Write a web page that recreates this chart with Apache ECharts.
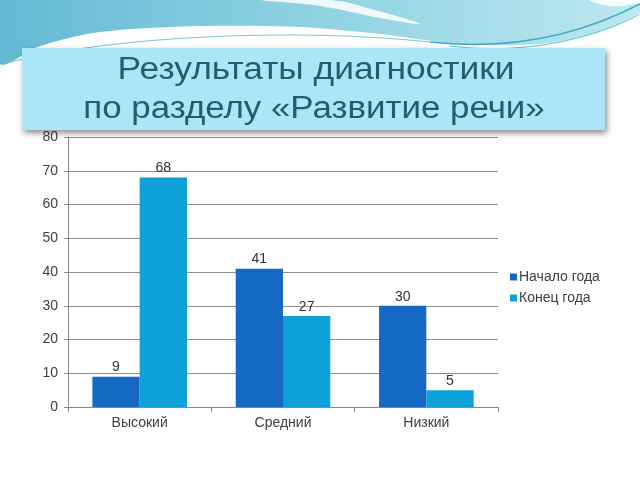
<!DOCTYPE html>
<html><head><meta charset="utf-8">
<script src="https://cdn.jsdelivr.net/npm/echarts@6/dist/echarts.min.js"></script>
<style>html,body{margin:0;padding:0;background:#fff}#c{width:640px;height:480px}</style>
</head><body><div id="c"></div>
<script>
const categories = ['Высокий', 'Средний', 'Низкий'];
const seriesNames = ['Начало года', 'Конец года'];
const startValues = [9, 41, 30];
const endValues = [68, 27, 5];
const titleLines = ['Результаты диагностики', 'по разделу «Развитие речи»'];

const chart = echarts.init(document.getElementById('c'), null, {renderer: 'canvas'});
const lblStyle = {show: true, position: 'top', color: '#333', fontSize: 14, fontFamily: 'Liberation Sans', distance: 2};
const topGrad = {type: 'linear', x: 0, y: 0, x2: 1, y2: 0, colorStops: [{offset: 0, color: '#62b8d4'}, {offset: 0.45, color: '#8ad0e2'}, {offset: 1, color: '#bde8ef'}]};
chart.setOption({
  animation: false,
  backgroundColor: '#fff',
  graphic: [
    {type: 'polygon', z: -10, shape: {smooth: 0.3, points: [[0, 0], [640, 0], [640, 12], [600, 32], [540, 44], [460, 44], [380, 34], [300, 27], [200, 26], [100, 32], [40, 46], [0, 64]]},
      style: {fill: topGrad}},
    {type: 'polygon', z: -9, shape: {smooth: 0.4, points: [[262, 0], [330, 0], [375, 10], [420, 24], [380, 18], [320, 6]]},
      style: {fill: 'rgba(255,255,255,0.85)'}},
    {type: 'polygon', z: -9, shape: {smooth: 0.4, points: [[590, 0], [640, 0], [640, 3], [610, 6]]},
      style: {fill: 'rgba(255,255,255,0.85)'}},
    {type: 'bezierCurve', z: -9, shape: {x1: 10, y1: 62, x2: 430, y2: 42, cpx1: 120, cpy1: 35, cpx2: 300, cpy2: 28}, style: {fill: null, stroke: '#7cc4d6', lineWidth: 1}},
    {type: 'bezierCurve', z: -9, shape: {x1: 430, y1: 42, x2: 640, y2: 4, cpx1: 520, cpy1: 52, cpx2: 590, cpy2: 30}, style: {fill: null, stroke: '#3fa8c4', lineWidth: 1.5}},
    {type: 'bezierCurve', z: -9, shape: {x1: 450, y1: 46, x2: 640, y2: 14, cpx1: 530, cpy1: 56, cpx2: 600, cpy2: 36}, style: {fill: null, stroke: '#6cc0d4', lineWidth: 1}},
    {type: 'rect', z: 10, shape: {x: 22, y: 48, width: 583, height: 82},
      style: {fill: '#abe6f6', shadowBlur: 6, shadowOffsetX: 2, shadowOffsetY: 3, shadowColor: 'rgba(0,0,0,0.45)'}},
    {type: 'text', z: 11, x: 316, y: 70, scaleX: 1.14, style: {text: titleLines[0], x: 0, y: 0, align: 'center', verticalAlign: 'middle', fill: '#1d5f6e', font: '31px "Liberation Sans"'}},
    {type: 'text', z: 11, x: 314, y: 109, scaleX: 1.125, style: {text: titleLines[1], x: 0, y: 0, align: 'center', verticalAlign: 'middle', fill: '#1d5f6e', font: '31px "Liberation Sans"'}}
  ],
  legend: {
    orient: 'vertical', left: 505, top: 265, itemWidth: 7, itemHeight: 7, itemGap: 7, icon: 'rect',
    textStyle: {color: '#404040', fontSize: 14, fontFamily: 'Liberation Sans', padding: [0, 0, 0, -3]},
    data: seriesNames
  },
  grid: {left: 68, right: 142, top: 137, bottom: 73, containLabel: false},
  xAxis: {
    type: 'category', data: categories,
    axisLine: {lineStyle: {color: '#888'}},
    axisTick: {show: true, length: 5, lineStyle: {color: '#888'}},
    axisLabel: {color: '#404040', fontSize: 14, fontFamily: 'Liberation Sans', margin: 9}
  },
  yAxis: {
    type: 'value', min: 0, max: 80, interval: 10,
    axisLine: {show: true, lineStyle: {color: '#888'}},
    axisTick: {show: true, length: 4, lineStyle: {color: '#888'}},
    axisLabel: {color: '#404040', fontSize: 14, fontFamily: 'Liberation Sans', margin: 10},
    splitLine: {lineStyle: {color: '#909090', width: 1}}
  },
  series: [
    {name: seriesNames[0], type: 'bar', data: startValues, barGap: '0%', barCategoryGap: '34%', itemStyle: {color: '#1669c2'}, label: lblStyle},
    {name: seriesNames[1], type: 'bar', data: endValues, itemStyle: {color: '#0ea0d9'}, label: lblStyle}
  ]
});
</script></body></html>
